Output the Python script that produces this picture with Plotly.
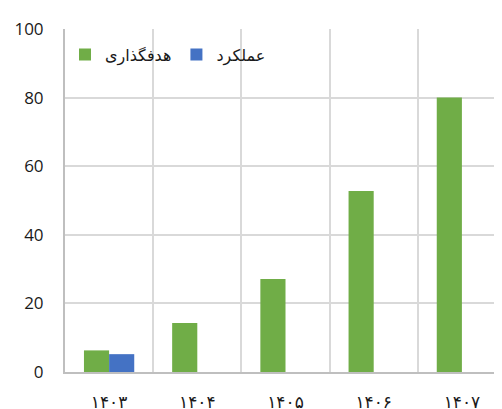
import plotly.graph_objects as go

categories = ["۱۴۰۳", "۱۴۰۴", "۱۴۰۵", "۱۴۰۶", "۱۴۰۷"]
target_values = [6.3, 14.3, 27.1, 52.8, 80.0]
actual_values = [5.2, None, None, None, None]
target_name = "هدفگذاری"
actual_name = "عملکرد"
y_ticks = [0, 20, 40, 60, 80, 100]

FONT = "Open Sans, DejaVu Sans, sans-serif"

fig = go.Figure()
fig.add_trace(go.Bar(x=categories, y=target_values, name=target_name,
                     marker=dict(color="#70ad47", line=dict(width=0))))
fig.add_trace(go.Bar(x=categories, y=actual_values, name=actual_name,
                     marker=dict(color="#4472c4", line=dict(width=0))))

fig.update_layout(
    width=502, height=409,
    margin=dict(l=57, r=4, t=21, b=45, autoexpand=False),
    paper_bgcolor="white", plot_bgcolor="white",
    barmode="group", bargap=0.43, bargroupgap=0,
    font=dict(family=FONT, size=17, color="#1a1a1a"),
    legend=dict(orientation="h", x=0.0, xanchor="left", y=0.975, yanchor="top",
                bgcolor="rgba(0,0,0,0)", font=dict(size=16),
                itemsizing="constant", traceorder="normal"),
    xaxis=dict(type="category", tickson="boundaries", showgrid=True,
               gridcolor="#d9d9d9", gridwidth=2, showline=True,
               linecolor="#bfbfbf", linewidth=2, ticks="", automargin=False,
               ticklabelstandoff=14, tickfont=dict(size=17)),
    yaxis=dict(range=[0, 100], tickvals=y_ticks, showgrid=True,
               gridcolor="#d9d9d9", gridwidth=2, showline=True,
               linecolor="#bfbfbf", linewidth=2, zeroline=False, ticks="",
               automargin=False, ticklabelstandoff=16, tickfont=dict(size=17)),
)

fig.write_html("out.html")
